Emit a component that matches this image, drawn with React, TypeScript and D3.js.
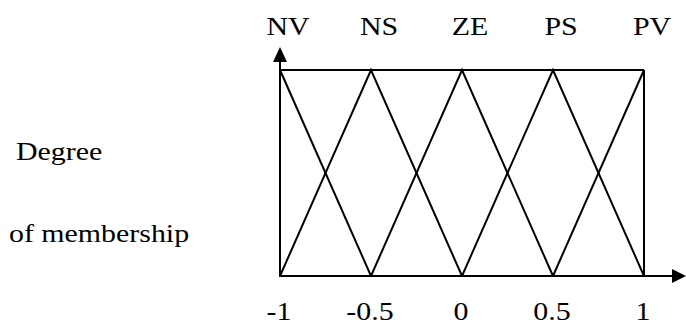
import React from "react";
import * as d3 from "d3";

const setNames = ["NV", "NS", "ZE", "PS", "PV"];
const setCenters = [-1, -0.5, 0, 0.5, 1];
const tickValues = [-1, -0.5, 0, 0.5, 1];
const tickLabels = ["-1", "-0.5", "0", "0.5", "1"];
const yTitleLines = ["Degree", "of membership"];

const W = 686;
const H = 327;
const FONT = "'Liberation Serif', 'Times New Roman', serif";

export default function App() {
  const x = d3.scaleLinear().domain([-1, 1]).range([280, 644]);
  const y = d3.scaleLinear().domain([0, 1]).range([276, 70]);
  const line = d3
    .line<[number, number]>()
    .x((d) => x(d[0]))
    .y((d) => y(d[1]));

  const step = 0.5;
  const tri = setCenters.map((c) => {
    const pts: [number, number][] = [];
    if (c - step >= -1) pts.push([c - step, 0]);
    pts.push([c, 1]);
    if (c + step <= 1) pts.push([c + step, 0]);
    return pts;
  });

  const stroke = "#000";
  const sw = 2;
  const axisLeft = x(-1);
  const axisBottom = y(0);

  const txt = (s: string, tx: number, ty: number, anchor: string, key: string) => (
    <text
      key={key}
      transform={`translate(${tx},${ty}) scale(1.15,1)`}
      textAnchor={anchor}
      fontFamily={FONT}
      fontSize={26}
      fill="#000"
    >
      {s}
    </text>
  );

  return (
    <svg
      width={W}
      height={H}
      style={{ position: "absolute", left: 0, top: 0, background: "#fff" }}
    >
      <rect width={W} height={H} fill="#fff" />
      {/* top line and right border */}
      <path d={line([[-1, 1], [1, 1]]) || ""} stroke={stroke} strokeWidth={sw} fill="none" />
      <path d={line([[1, 0], [1, 1]]) || ""} stroke={stroke} strokeWidth={sw} fill="none" />
      {/* membership triangles */}
      {tri.map((pts, i) => (
        <path key={i} d={line(pts) || ""} stroke={stroke} strokeWidth={sw} fill="none" strokeLinejoin="miter" />
      ))}
      {/* y axis with arrow */}
      <line x1={axisLeft} y1={axisBottom + 1} x2={axisLeft} y2={58} stroke={stroke} strokeWidth={sw} />
      <path d={`M${axisLeft},47 L${axisLeft - 7},62 L${axisLeft + 7},62 Z`} fill={stroke} />
      {/* x axis with arrow */}
      <line x1={axisLeft - 1} y1={axisBottom} x2={680} y2={axisBottom} stroke={stroke} strokeWidth={sw} />
      <path d={`M686,${axisBottom} L672,${axisBottom - 7} L672,${axisBottom + 7} Z`} fill={stroke} />
      {/* set labels */}
      {setNames.map((n, i) => txt(n, x(setCenters[i]) + 8, 35, "middle", "s" + i))}
      {/* tick labels */}
      {tickLabels.map((t, i) => txt(t, x(tickValues[i]) - 1, 320, "middle", "t" + i))}
      {/* y title */}
      {txt(yTitleLines[0], 16, 160, "start", "y0")}
      {txt(yTitleLines[1], 9, 242, "start", "y1")}
    </svg>
  );
}
